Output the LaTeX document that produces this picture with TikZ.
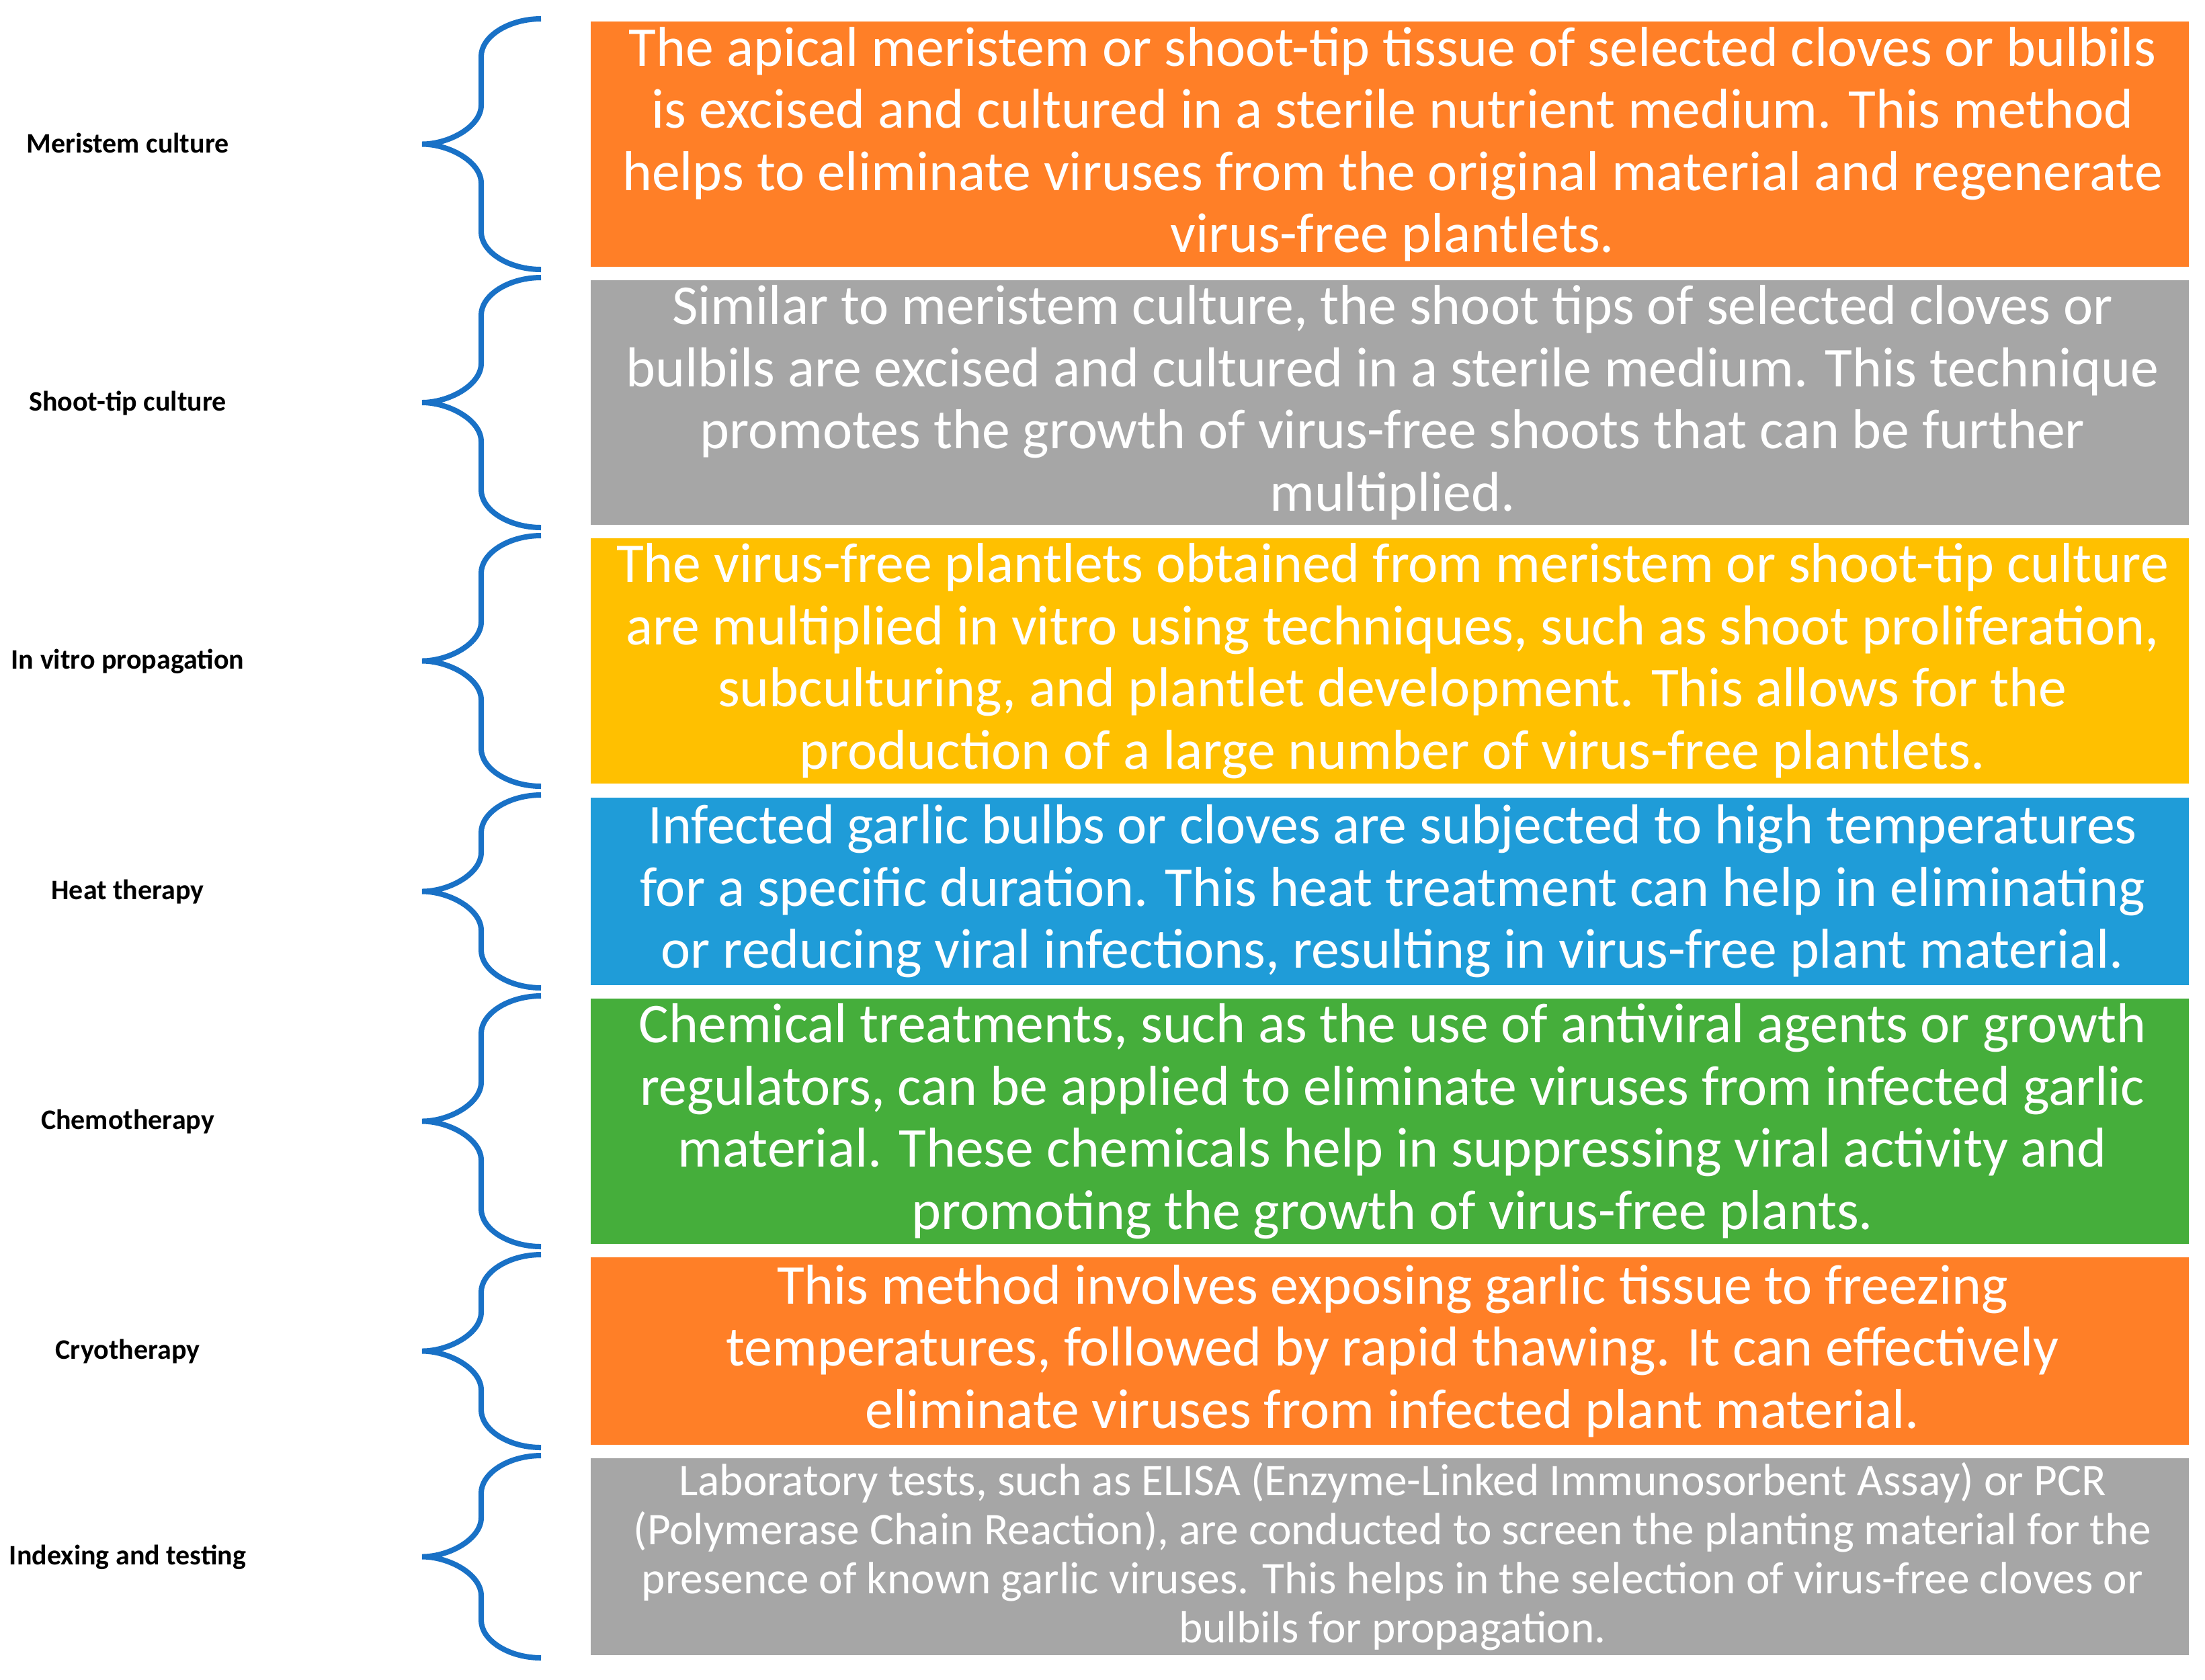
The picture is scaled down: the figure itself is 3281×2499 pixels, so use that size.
\documentclass[tikz,border=0pt]{standalone}
\usepackage{fontspec}
\setmainfont{Carlito}
\definecolor{orangeC}{HTML}{FF7F27}
\definecolor{grayC}{HTML}{A6A6A6}
\definecolor{yellowC}{HTML}{FFC000}
\definecolor{blueC}{HTML}{1F9CD8}
\definecolor{greenC}{HTML}{45AE3B}
\definecolor{braceC}{HTML}{1971C6}
\begin{document}
\begin{tikzpicture}[x=0.3pt,y=-0.3pt,
  txt/.style={inner sep=0pt, outer sep=0pt, text=white, align=center,
    font=\fontsize{25.1}{27.75}\selectfont},
  smalltxt/.style={txt, font=\fontsize{20.2}{21.9}\selectfont},
  lbl/.style={anchor=base, inner sep=0pt, text=black,
    font=\bfseries\fontsize{12.6}{14}\selectfont},
  brc/.style={draw=braceC, line width=2.4pt}]
\useasboundingbox (0,0) rectangle (3281,2499);
\fill[white] (0,0) rectangle (3281,2499);

% boxes
\fill[orangeC] (879,32) rectangle (3257,397);
\fill[grayC]   (879,417) rectangle (3257,781);
\fill[yellowC] (879,801) rectangle (3257,1166);
\fill[blueC]   (879,1187) rectangle (3257,1466);
\fill[greenC]  (879,1486) rectangle (3257,1851);
\fill[orangeC] (879,1871) rectangle (3257,2150);
\fill[grayC]   (879,2170) rectangle (3257,2463);

% texts
\node[txt] (b1) at (2072,214.5) {The apical meristem or shoot-tip tissue of selected cloves or bulbils\\
is excised and cultured in a sterile nutrient medium. This method\\
helps to eliminate viruses from the original material and regenerate\\
virus-free plantlets.};
\node[txt] (b2) at (2072,599) {Similar to meristem culture, the shoot tips of selected cloves or\\
bulbils are excised and cultured in a sterile medium. This technique\\
promotes the growth of virus-free shoots that can be further\\
multiplied.};
\node[txt] (b3) at (2072,983.5) {The virus-free plantlets obtained from meristem or shoot-tip culture\\
are multiplied in vitro using techniques, such as shoot proliferation,\\
subculturing, and plantlet development. This allows for the\\
production of a large number of virus-free plantlets.};
\node[txt] (b4) at (2072,1326.5) {Infected garlic bulbs or cloves are subjected to high temperatures\\
for a specific duration. This heat treatment can help in eliminating\\
or reducing viral infections, resulting in virus-free plant material.};
\node[txt] (b5) at (2072,1668.5) {Chemical treatments, such as the use of antiviral agents or growth\\
regulators, can be applied to eliminate viruses from infected garlic\\
material. These chemicals help in suppressing viral activity and\\
promoting the growth of virus-free plants.};
\node[txt] (b6) at (2072,2010.5) {This method involves exposing garlic tissue to freezing\\
temperatures, followed by rapid thawing. It can effectively\\
eliminate viruses from infected plant material.};
\node[smalltxt] (b7) at (2072,2316.5) {Laboratory tests, such as ELISA (Enzyme-Linked Immunosorbent Assay) or PCR\\
(Polymerase Chain Reaction), are conducted to screen the planting material for the\\
presence of known garlic viruses. This helps in the selection of virus-free cloves or\\
bulbils for propagation.};

% labels
\node[lbl] (l1) at (190,227.5) {Meristem culture};
\node[lbl] (l2) at (190,611) {Shoot-tip culture};
\node[lbl] (l3) at (190,995.5) {In vitro propagation};
\node[lbl] (l4) at (190,1338.5) {Heat therapy};
\node[lbl] (l5) at (190,1680.5) {Chemotherapy};
\node[lbl] (l6) at (190,2022.5) {Cryotherapy};
\node[lbl] (l7) at (190,2328.5) {Indexing and testing};

% braces
\foreach \t/\b in {32/397, 417/781, 801/1166, 1187/1466, 1486/1851, 1871/2150, 2170/2463}{
  \pgfmathsetmacro{\T}{\t-4}
  \pgfmathsetmacro{\B}{\b+4}
  \pgfmathsetmacro{\m}{(\t+\b)/2}
  \draw[brc] (805,\T) .. controls (757,\T) and (716,\T+26) .. (716,\T+56)
    -- (716,\m-58) .. controls (716,\m-26) and (668,\m) .. (628,\m)
    .. controls (668,\m) and (716,\m+26) .. (716,\m+58)
    -- (716,\B-56) .. controls (716,\B-26) and (757,\B) .. (805,\B);
}
\end{tikzpicture}
\end{document}
